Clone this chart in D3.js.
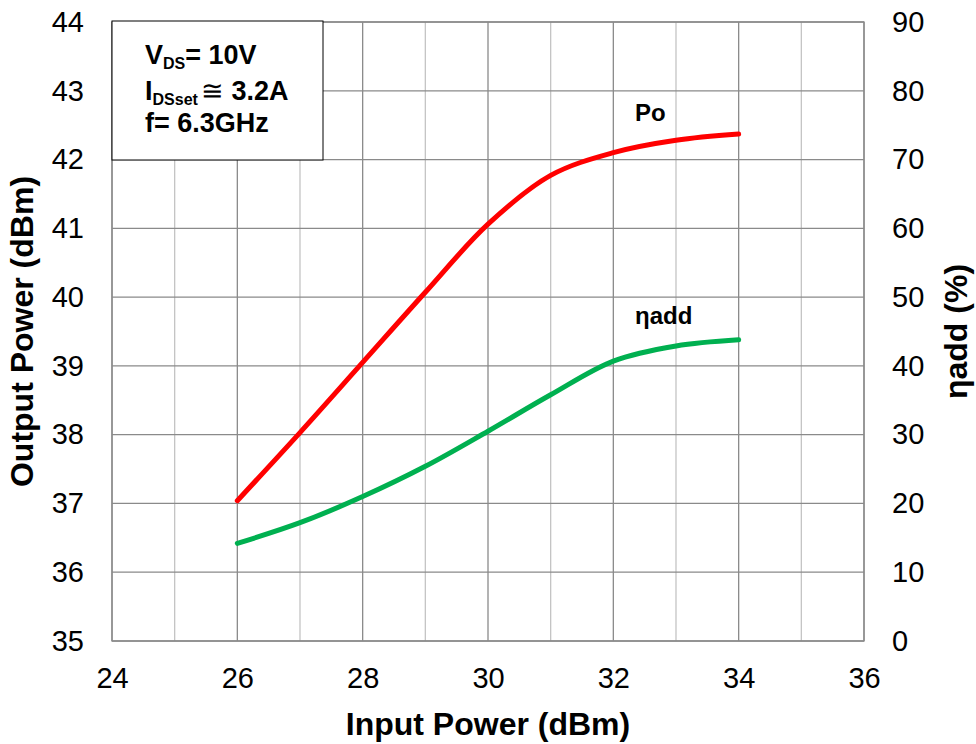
<!DOCTYPE html>
<html><head><meta charset="utf-8">
<script src="https://cdn.jsdelivr.net/npm/d3@7"></script>
<style>body{margin:0;background:#fff}svg{display:block}text{font-family:"Liberation Sans",Arial,sans-serif}</style>
</head><body>
<svg id="c" width="976" height="744"></svg>
<script>
const inputPower = [26, 27, 28, 29, 30, 31, 32, 33, 34];
const outputPower = [37.04, 38.03, 39.05, 40.07, 41.06, 41.77, 42.10, 42.28, 42.37];
const efficiency = [14.2, 17.2, 21.0, 25.4, 30.5, 35.8, 40.7, 42.9, 43.8];
const xTicks = [24, 26, 28, 30, 32, 34, 36];
const yLeftTicks = [35, 36, 37, 38, 39, 40, 41, 42, 43, 44];
const yRightTicks = [0, 10, 20, 30, 40, 50, 60, 70, 80, 90];

const svg = d3.select("#c");
const L = 112, R = 864, T = 22, B = 641;
const x = d3.scaleLinear().domain([24, 36]).range([L, R]);
const yL = d3.scaleLinear().domain([35, 44]).range([B, T]);
const yR = d3.scaleLinear().domain([0, 90]).range([B, T]);

const g = svg.append("g");
g.selectAll(".vminor").data(d3.range(25, 36, 2)).join("line")
  .attr("x1", d => x(d)).attr("x2", d => x(d)).attr("y1", T).attr("y2", B)
  .attr("stroke", "#c4c4c4").attr("stroke-width", 1.3);
g.selectAll(".vmajor").data(xTicks).join("line")
  .attr("x1", d => x(d)).attr("x2", d => x(d)).attr("y1", T).attr("y2", B)
  .attr("stroke", "#8a8a8a").attr("stroke-width", 1.3);
g.selectAll(".h").data(yLeftTicks).join("line")
  .attr("x1", L).attr("x2", R).attr("y1", d => yL(d)).attr("y2", d => yL(d))
  .attr("stroke", "#8a8a8a").attr("stroke-width", 1.3);
svg.append("rect").attr("x", L).attr("y", T).attr("width", R - L).attr("height", B - T)
  .attr("fill", "none").attr("stroke", "#8a8a8a").attr("stroke-width", 1.3);

const axL = svg.append("g").attr("transform", `translate(${L},0)`)
  .call(d3.axisLeft(yL).tickValues(yLeftTicks).tickSize(0).tickPadding(28));
const axR = svg.append("g").attr("transform", `translate(${R},0)`)
  .call(d3.axisRight(yR).tickValues(yRightTicks).tickSize(0).tickPadding(28));
const axB = svg.append("g").attr("transform", `translate(0,${B})`)
  .call(d3.axisBottom(x).tickValues(xTicks).tickSize(0).tickPadding(26));
[axL, axR, axB].forEach(a => {
  a.select(".domain").remove();
  a.selectAll("text").attr("font-size", 29).attr("fill", "#000")
    .attr("font-family", "'Liberation Sans', Arial, sans-serif");
});

const line = (ys, yScale) => d3.line()
  .x((d, i) => x(inputPower[i])).y(d => yScale(d))
  .curve(d3.curveCatmullRom.alpha(0.5))(ys);
svg.append("path").attr("d", line(outputPower, yL)).attr("fill", "none")
  .attr("stroke", "#ff0000").attr("stroke-width", 5).attr("stroke-linecap", "round");
svg.append("path").attr("d", line(efficiency, yR)).attr("fill", "none")
  .attr("stroke", "#00b050").attr("stroke-width", 5).attr("stroke-linecap", "round");

svg.append("text").attr("x", 635).attr("y", 121).attr("font-size", 24).attr("font-weight", "bold").text("Po");
svg.append("text").attr("x", 635).attr("y", 324).attr("font-size", 24).attr("font-weight", "bold").text("ηadd");

// info box
svg.append("rect").attr("x", L).attr("y", 21).attr("width", 211).attr("height", 139)
  .attr("fill", "#fff").attr("stroke", "#000").attr("stroke-width", 1);
const fs = 27, sub = 16;
const t1 = svg.append("text").attr("x", 145).attr("y", 64).attr("font-size", fs).attr("font-weight", "bold");
t1.append("tspan").text("V");
t1.append("tspan").attr("font-size", sub).attr("dy", 5).text("DS");
t1.append("tspan").attr("dy", -5).text("= 10V");
const t2 = svg.append("text").attr("x", 145).attr("y", 100).attr("font-size", fs).attr("font-weight", "bold");
t2.append("tspan").text("I");
t2.append("tspan").attr("font-size", sub).attr("dy", 5).text("DSset");
t2.append("tspan").attr("dy", -5).attr("dx", 3).attr("font-weight", "normal").text("≅");
t2.append("tspan").text(" 3.2A");
svg.append("text").attr("x", 145).attr("y", 132).attr("font-size", fs).attr("font-weight", "bold").text("f= 6.3GHz");

svg.append("text").attr("x", (L + R) / 2).attr("y", 735).attr("text-anchor", "middle")
  .attr("font-size", 32).attr("font-weight", "bold").text("Input Power (dBm)");
svg.append("text").attr("transform", `translate(33,${(T + B) / 2}) rotate(-90)`)
  .attr("text-anchor", "middle").attr("font-size", 32).attr("font-weight", "bold").text("Output Power (dBm)");
svg.append("text").attr("transform", `translate(967,${(T + B) / 2}) rotate(-90)`)
  .attr("text-anchor", "middle").attr("font-size", 32).attr("font-weight", "bold").text("ηadd (%)");
</script>
</body></html>
